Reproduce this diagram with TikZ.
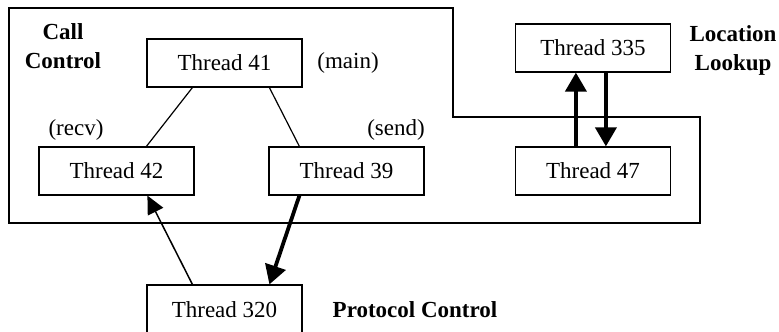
\documentclass[tikz,border=0pt]{standalone}
\usepackage{fontspec}
\setmainfont{Liberation Serif}
\usetikzlibrary{arrows.meta,calc}
\begin{document}
\begin{tikzpicture}[x=0.5pt,y=-0.5pt,
  thread/.style={draw,line width=0.6pt,minimum width=77.5pt,minimum height=24pt,inner sep=0pt,font=\fontsize{11.5}{14}\selectfont},
  lbl/.style={inner sep=0pt,font=\fontsize{11.5}{14}\selectfont},
  blbl/.style={inner sep=0pt,align=center,font=\fontsize{11.5}{14.5}\selectfont\bfseries},
  thin/.style={line width=0.6pt},
  thinarrow/.style={line width=0.75pt,-{Triangle[length=9pt,width=8.5pt]}},
  thickarrow/.style={line width=1.9pt,-{Triangle[length=9.5pt,width=10.5pt]}}]
\useasboundingbox (0,0) rectangle (779,331);
\clip (0,0) rectangle (779,331);
\fill[white] (0,0) rectangle (779,331);
% outer region
\draw[thin] (9,8) -- (453,8) -- (453,117) -- (700,117) -- (700,223) -- (9,223) -- cycle;
% nodes
\node[thread] (t41) at (224.5,63) {Thread 41};
\node[thread] (t42) at (116.5,171) {Thread 42};
\node[thread] (t39) at (346.5,171) {Thread 39};
\node[thread] (t335) at (593,48) {Thread 335};
\node[thread] (t47) at (593,171) {Thread 47};
\node[thread,minimum height=25pt] (t320) at (224.5,310) {Thread 320};
% labels
\node[blbl] (cc) at (63,46) {Call\\Control};
\node[lbl] (main) at (348,63) {(main)};
\node[lbl] (recv) at (76,130) {(recv)};
\node[lbl] (send) at (396,130) {(send)};
\node[blbl] (ll) at (733,50) {Location\\Lookup};
\node[blbl] (pc) at (415,310) {Protocol Control};
% connectors
\draw[thin] ($(t41.south west)+(46,0)$) -- ($(t42.north west)+(108,0)$);
\draw[thin] ($(t41.south west)+(123,0)$) -- ($(t39.north west)+(31,0)$);
\draw[thinarrow] ($(t320.north west)+(46,0)$) -- ($(t42.south west)+(109,0)$);
\draw[thickarrow] ($(t39.south west)+(31,0)$) -- ($(t320.north west)+(123,0)$);
\draw[thickarrow] ($(t47.north west)+(61,0)$) -- ($(t335.south west)+(61,0)$);
\draw[thickarrow] ($(t335.south west)+(91,0)$) -- ($(t47.north west)+(91,0)$);
\end{tikzpicture}
\end{document}
